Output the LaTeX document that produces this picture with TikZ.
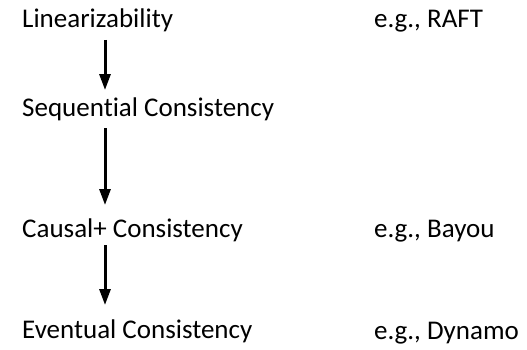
\documentclass[tikz,border=0pt]{standalone}
\usepackage{fontspec}
\setmainfont{Carlito}[Ligatures={NoCommon}]
\usetikzlibrary{arrows.meta}
\begin{document}
\begin{tikzpicture}[x=1pt,y=1pt,
  lbl/.style={anchor=base west,inner sep=0pt,font=\fontsize{27}{32}\selectfont},
  imp/.style={line width=3pt,-{Triangle[width=11pt,length=16pt]}}]
\useasboundingbox (0,0) rectangle (527,349);
\node[lbl] (lin) at (22,349-28) {Linearizability};
\node[lbl] (seq) at (22,349-116) {Sequential Consistency};
\node[lbl] (cau) at (22,349-237) {Causal+ Consistency};
\node[lbl] (eve) at (22,349-338) {Eventual Consistency};
\node[lbl] (raft) at (374,349-28) {e.g., RAFT};
\node[lbl] (bayou) at (374,349-237) {e.g., Bayou};
\node[lbl] (dyn) at (374,349-339) {e.g., Dynamo};
\coordinate (a1s) at (105,349-40);
\coordinate (a1e) at (105,349-90);
\coordinate (a2s) at (105,349-128);
\coordinate (a2e) at (105,349-205);
\coordinate (a3s) at (105,349-245);
\coordinate (a3e) at (105,349-305);
\draw[imp] (a1s) -- (a1e);
\draw[imp] (a2s) -- (a2e);
\draw[imp] (a3s) -- (a3e);
\end{tikzpicture}
\end{document}
